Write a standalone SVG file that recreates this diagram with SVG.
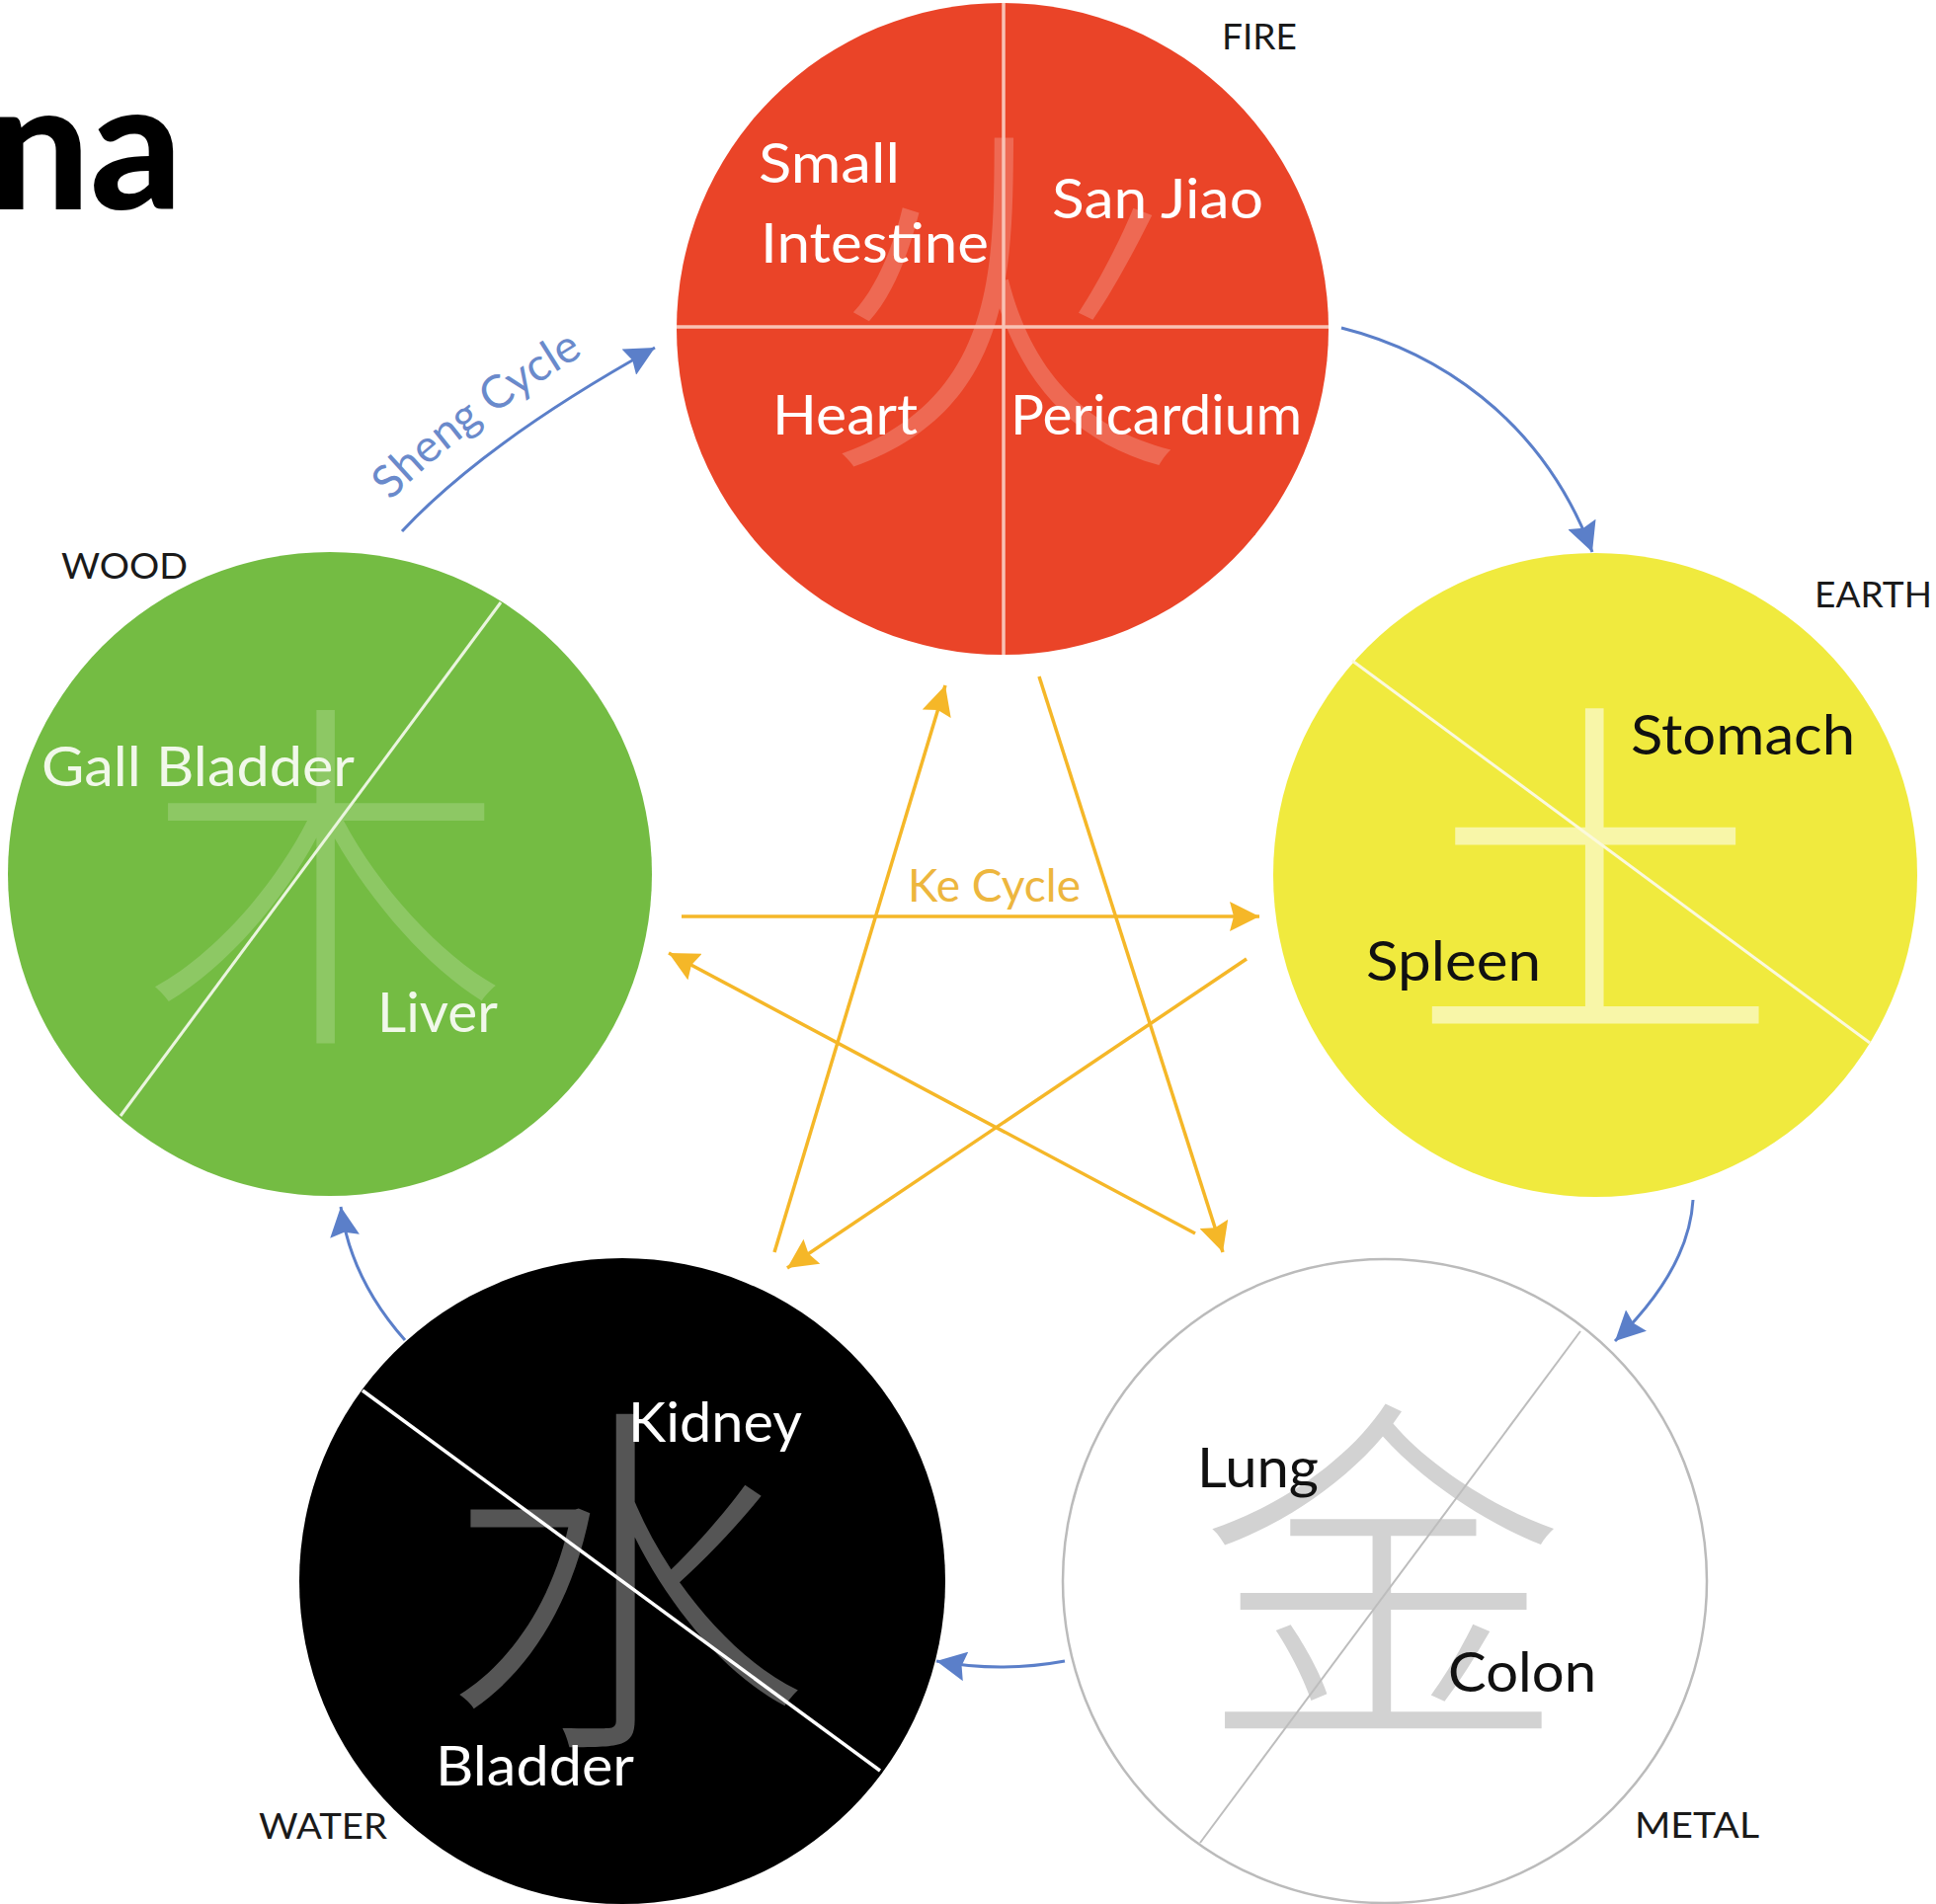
<svg xmlns="http://www.w3.org/2000/svg" width="1960" height="1928" viewBox="0 0 1960 1928">
<style>
.lbl{font-family:Lato,"Liberation Sans",sans-serif;font-size:57px}
.el{font-family:Lato,"Liberation Sans",sans-serif;font-size:37px;fill:#1a1a1a}
.han{font-family:"Noto Sans CJK SC","Noto Sans CJK JP",sans-serif;font-size:372px;font-weight:300;text-anchor:middle}
.w{fill:#ffffff}
.k{fill:#111111}
.sheng{fill:none;stroke:#5B7FC9;stroke-width:3;marker-end:url(#ahb)}
.ke{fill:none;stroke:#F5B728;stroke-width:3.5;marker-end:url(#ahg)}
.cyc{font-family:Lato,"Liberation Sans",sans-serif;font-size:46px}
</style>
<defs>
<marker id="ahb" markerUnits="userSpaceOnUse" viewBox="0 0 32 30" markerWidth="32" markerHeight="30" refX="30" refY="15" orient="auto">
<path d="M0,0 L30,15 L0,30 L4,15 z" fill="#5B7FC9"/>
</marker>
<marker id="ahg" markerUnits="userSpaceOnUse" viewBox="0 0 32 30" markerWidth="32" markerHeight="30" refX="30" refY="15" orient="auto">
<path d="M0,0 L30,15 L0,30 L4,15 z" fill="#F5B728"/>
</marker>
</defs>
<rect width="1960" height="1928" fill="#ffffff"/>
<text x="-12" y="212" font-family="Lato,'Liberation Sans',sans-serif" font-weight="900" font-size="182" fill="#000">na</text>

<g id="fire">
<circle cx="1015" cy="333" r="330" fill="#EA4428"/>
<text class="han" x="1016" y="445" fill="#ffffff" fill-opacity="0.2">火</text>
<line x1="1016" y1="3" x2="1016" y2="663" stroke="#F8C2B4" stroke-width="3.5"/>
<line x1="685" y1="331" x2="1345" y2="331" stroke="#F8C2B4" stroke-width="3.5"/>
<text class="lbl w" x="768" y="185" textLength="143" lengthAdjust="spacingAndGlyphs">Small</text>
<text class="lbl w" x="770" y="266" textLength="231" lengthAdjust="spacingAndGlyphs">Intestine</text>
<text class="lbl w" x="1065" y="221" textLength="214" lengthAdjust="spacingAndGlyphs">San Jiao</text>
<text class="lbl w" x="782" y="440" textLength="147" lengthAdjust="spacingAndGlyphs">Heart</text>
<text class="lbl w" x="1023" y="440" textLength="295" lengthAdjust="spacingAndGlyphs">Pericardium</text>
<text class="el" x="1237" y="50" textLength="76" lengthAdjust="spacingAndGlyphs">FIRE</text>
</g>

<g id="wood">
<circle cx="334" cy="885" r="326" fill="#74BC43"/>
<text class="han" x="330" y="1029" fill="#ffffff" fill-opacity="0.18">木</text>
<line x1="507" y1="610" x2="122" y2="1130" stroke="#EAF5DE" stroke-width="3"/>
<text class="lbl" x="42" y="796" fill="#F1F8EA" textLength="317" lengthAdjust="spacingAndGlyphs">Gall Bladder</text>
<text class="lbl" x="382" y="1045" fill="#F1F8EA" textLength="122" lengthAdjust="spacingAndGlyphs">Liver</text>
<text class="el" x="62" y="586" textLength="128" lengthAdjust="spacingAndGlyphs">WOOD</text>
</g>

<g id="earth">
<circle cx="1615" cy="886" r="326" fill="#F0EA3E"/>
<text class="han" x="1615" y="1026" fill="#ffffff" fill-opacity="0.55">土</text>
<line x1="1369" y1="669" x2="1893" y2="1056" stroke="#FBF9DC" stroke-width="3"/>
<text class="lbl k" x="1651" y="764" textLength="227" lengthAdjust="spacingAndGlyphs">Stomach</text>
<text class="lbl k" x="1383" y="993" textLength="177" lengthAdjust="spacingAndGlyphs">Spleen</text>
<text class="el" x="1837" y="615" textLength="119" lengthAdjust="spacingAndGlyphs">EARTH</text>
</g>

<g id="water">
<circle cx="630" cy="1601" r="327" fill="#000000"/>
<text class="han" x="633" y="1741" fill="#555555">水</text>
<line x1="367" y1="1408" x2="891" y2="1793" stroke="#ffffff" stroke-width="3.5"/>
<text class="lbl w" x="636" y="1460" textLength="176" lengthAdjust="spacingAndGlyphs">Kidney</text>
<text class="lbl w" x="441" y="1808" textLength="201" lengthAdjust="spacingAndGlyphs">Bladder</text>
<text class="el" x="262" y="1862" textLength="130" lengthAdjust="spacingAndGlyphs">WATER</text>
</g>

<g id="metal">
<circle cx="1402" cy="1601" r="326" fill="#ffffff" stroke="#BBBBBB" stroke-width="2.5"/>
<text class="han" x="1400" y="1735" fill="#D2D2D2">金</text>
<line x1="1600" y1="1348" x2="1215" y2="1866" stroke="#BDBDBD" stroke-width="2"/>
<text class="lbl k" x="1212" y="1506" textLength="123" lengthAdjust="spacingAndGlyphs">Lung</text>
<text class="lbl k" x="1466" y="1713" textLength="150" lengthAdjust="spacingAndGlyphs">Colon</text>
<text class="el" x="1655" y="1861" textLength="126" lengthAdjust="spacingAndGlyphs">METAL</text>
</g>

<g id="connectors">
<path class="sheng" d="M407,538 Q492,447 663,352"/>
<path class="sheng" d="M1358,332 C1450,355 1560,420 1612,559"/>
<path class="sheng" d="M1714,1215 Q1710,1285 1635,1358"/>
<path class="sheng" d="M1078,1682 Q1013,1694 948,1682"/>
<path class="sheng" d="M410,1357 Q355,1295 345,1222"/>
<path id="shengText" d="M385,518 Q474,423 648,326" fill="none"/>
<text class="cyc" fill="#6A8ACB"><textPath href="#shengText" startOffset="15">Sheng Cycle</textPath></text>

<line class="ke" x1="690" y1="928" x2="1275" y2="928"/>
<line class="ke" x1="784" y1="1268" x2="957" y2="694"/>
<line class="ke" x1="1052" y1="685" x2="1238" y2="1268"/>
<line class="ke" x1="1262" y1="971" x2="797" y2="1284"/>
<line class="ke" x1="1210" y1="1249" x2="677" y2="965"/>
<text class="cyc" x="919" y="913" fill="#EDB63E" textLength="175" lengthAdjust="spacingAndGlyphs">Ke Cycle</text>
</g>
</svg>
